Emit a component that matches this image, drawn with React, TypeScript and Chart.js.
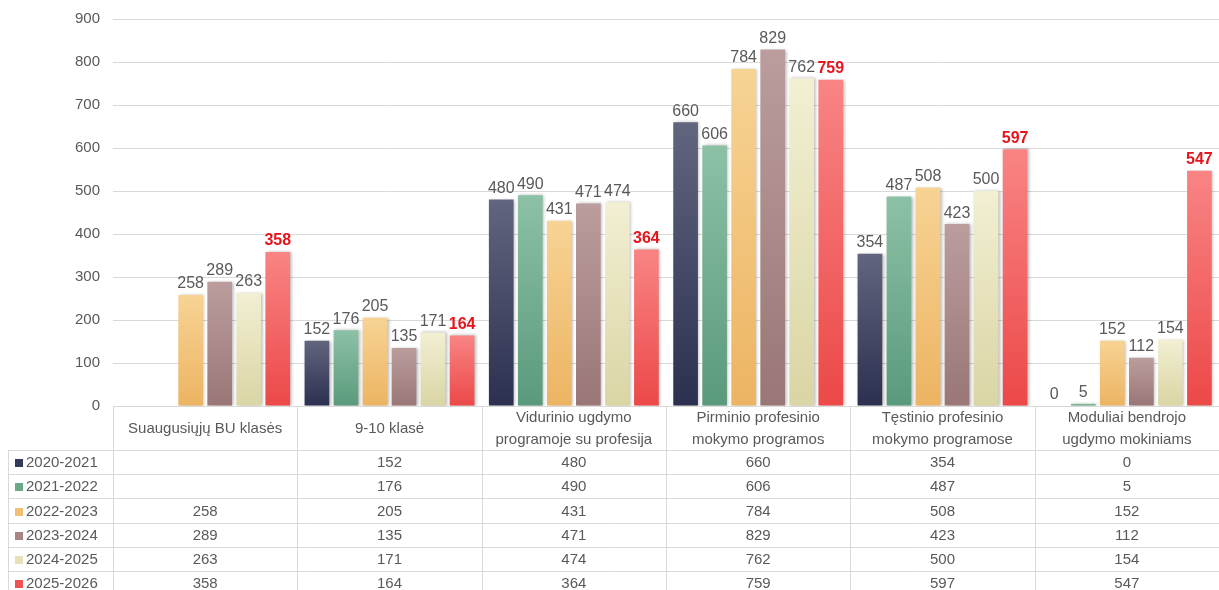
import React, { useEffect, useRef } from "react";
import { Chart, registerables } from "chart.js";

Chart.register(...registerables);

const categories: string[][] = [
  ["Suaugusiųjų BU klasės"],
  ["9-10 klasė"],
  ["Vidurinio ugdymo", "programoje su profesija"],
  ["Pirminio profesinio", "mokymo programos"],
  ["Tęstinio profesinio", "mokymo programose"],
  ["Moduliai bendrojo", "ugdymo mokiniams"],
];

const seriesNames = ["2020-2021", "2021-2022", "2022-2023", "2023-2024", "2024-2025", "2025-2026"];

const s2020: (number | null)[] = [null, 152, 480, 660, 354, 0];
const s2021: (number | null)[] = [null, 176, 490, 606, 487, 5];
const s2022: (number | null)[] = [258, 205, 431, 784, 508, 152];
const s2023: (number | null)[] = [289, 135, 471, 829, 423, 112];
const s2024: (number | null)[] = [263, 171, 474, 762, 500, 154];
const s2025: (number | null)[] = [358, 164, 364, 759, 597, 547];

const seriesValues = [s2020, s2021, s2022, s2023, s2024, s2025];

const solidColors = ["#353a58", "#6aa98a", "#f0c075", "#a88484", "#e6e2b8", "#f05252"];
const topColors = ["#62657e", "#8cc1a6", "#f7d394", "#bb9d9d", "#f2efd3", "#f98484"];
const bottomColors = ["#2b3050", "#5a9a7c", "#ecb462", "#9a7676", "#d9d5a4", "#ec4848"];

const FONT = "'Liberation Sans', Arial, sans-serif";
const GRAY = "#595959";
const LINE = "#d9d9d9";

export default function App() {
  const ref = useRef<HTMLCanvasElement | null>(null);

  useEffect(() => {
    if (!ref.current) return;

    const makeGradient = (ctx: any, si: number) => {
      const chart = ctx.chart;
      const v = ctx.raw;
      const ys = chart.scales?.y;
      if (!ys || v == null || !chart.chartArea) return solidColors[si];
      const top = ys.getPixelForValue(v);
      const base = ys.getPixelForValue(0);
      if (!isFinite(top) || !isFinite(base) || Math.abs(base - top) < 1) return solidColors[si];
      const g = chart.ctx.createLinearGradient(0, top, 0, base);
      g.addColorStop(0, topColors[si]);
      g.addColorStop(1, bottomColors[si]);
      return g;
    };

    const labelPlugin = {
      id: "barLabels",
      beforeDatasetDraw(chart: any) {
        const c = chart.ctx;
        c.save();
        c.shadowColor = "rgba(0,0,0,0.28)";
        c.shadowBlur = 3;
        c.shadowOffsetX = 1.5;
        c.shadowOffsetY = 0;
      },
      afterDatasetDraw(chart: any) {
        chart.ctx.restore();
      },
      afterDatasetsDraw(chart: any) {
        const c = chart.ctx;
        c.save();
        c.textAlign = "center";
        c.textBaseline = "bottom";
        chart.data.datasets.forEach((ds: any, di: number) => {
          const meta = chart.getDatasetMeta(di);
          meta.data.forEach((bar: any, i: number) => {
            const v = ds.data[i];
            if (v == null) return;
            if (di === 5) {
              c.font = `bold 16px ${FONT}`;
              c.fillStyle = "#e8141c";
            } else {
              c.font = `16px ${FONT}`;
              c.fillStyle = GRAY;
            }
            c.fillText(String(v), bar.x, bar.y - 3);
          });
        });
        c.restore();
      },
    };

    const tablePlugin = {
      id: "dataTable",
      afterDraw(chart: any) {
        const c = chart.ctx;
        const xs = chart.scales.x;
        const area = chart.chartArea;
        const n = categories.length;
        const cw = xs.getPixelForValue(1) - xs.getPixelForValue(0);
        const left = xs.getPixelForValue(0) - cw / 2;
        const right = xs.getPixelForValue(n - 1) + cw / 2;
        const top = area.bottom;
        const headerH = 44;
        const rowH = 24.2;
        const legendLeft = 8;
        const bottom = top + headerH + rowH * seriesNames.length;
        c.save();
        c.strokeStyle = LINE;
        c.lineWidth = 1;
        c.beginPath();
        c.moveTo(left, top + 0.5);
        c.lineTo(right, top + 0.5);
        for (let r = 0; r < seriesNames.length; r++) {
          const y = Math.round(top + headerH + rowH * r) + 0.5;
          c.moveTo(legendLeft, y);
          c.lineTo(right, y);
        }
        for (let i = 0; i <= n; i++) {
          const x = Math.round(left + cw * i) + 0.5;
          c.moveTo(x, top);
          c.lineTo(x, bottom);
        }
        c.moveTo(legendLeft + 0.5, top + headerH);
        c.lineTo(legendLeft + 0.5, bottom);
        c.stroke();

        c.fillStyle = GRAY;
        c.font = `15px ${FONT}`;
        c.textAlign = "center";
        c.textBaseline = "middle";
        categories.forEach((lines, i) => {
          const cx = xs.getPixelForValue(i);
          const cy = top + headerH / 2 + 1;
          if (lines.length === 1) {
            c.fillText(lines[0], cx, cy);
          } else {
            c.fillText(lines[0], cx, cy - 11);
            c.fillText(lines[1], cx, cy + 11);
          }
        });
        seriesValues.forEach((vals, r) => {
          const cy = top + headerH + rowH * r + rowH / 2 + 1;
          vals.forEach((v, i) => {
            if (v == null) return;
            c.fillText(String(v), xs.getPixelForValue(i), cy);
          });
        });
        c.textAlign = "left";
        seriesNames.forEach((name, r) => {
          const cy = top + headerH + rowH * r + rowH / 2 + 1;
          c.fillStyle = solidColors[r];
          c.fillRect(15, Math.round(cy - 4), 8, 8);
          c.fillStyle = GRAY;
          c.fillText(name, 26, cy);
        });
        c.restore();
      },
    };

    const chart = new Chart(ref.current, {
      type: "bar",
      data: {
        labels: categories.map((l) => l.join(" ")),
        datasets: seriesValues.map((vals, si) => ({
          label: seriesNames[si],
          data: vals,
          backgroundColor: (ctx: any) => makeGradient(ctx, si),
          borderWidth: 0,
          categoryPercentage: 0.945,
          barPercentage: 0.85,
        })),
      },
      options: {
        animation: false,
        responsive: false,
        maintainAspectRatio: false,
        layout: { padding: { top: 19, bottom: 184, left: 0, right: 0 } },
        plugins: {
          legend: { display: false },
          tooltip: { enabled: false },
          title: { display: false },
        },
        scales: {
          x: {
            ticks: { display: false },
            grid: { display: false, drawTicks: false },
            border: { display: false },
          },
          y: {
            min: 0,
            max: 900,
            ticks: {
              stepSize: 100,
              color: GRAY,
              font: { family: FONT, size: 15 },
              padding: 13,
            },
            grid: { color: LINE, drawTicks: false, lineWidth: 1 },
            border: { display: false },
            afterFit: (axis: any) => {
              axis.width = 113;
              axis.paddingTop = 0;
              axis.paddingBottom = 0;
            },
          },
        },
      },
      plugins: [labelPlugin, tablePlugin],
    });

    return () => chart.destroy();
  }, []);

  return (
    <div style={{ position: "fixed", left: 0, top: 0, width: 1219, height: 590, background: "#fff" }}>
      <canvas ref={ref} width={1219} height={590} style={{ width: 1219, height: 590 }} />
    </div>
  );
}
